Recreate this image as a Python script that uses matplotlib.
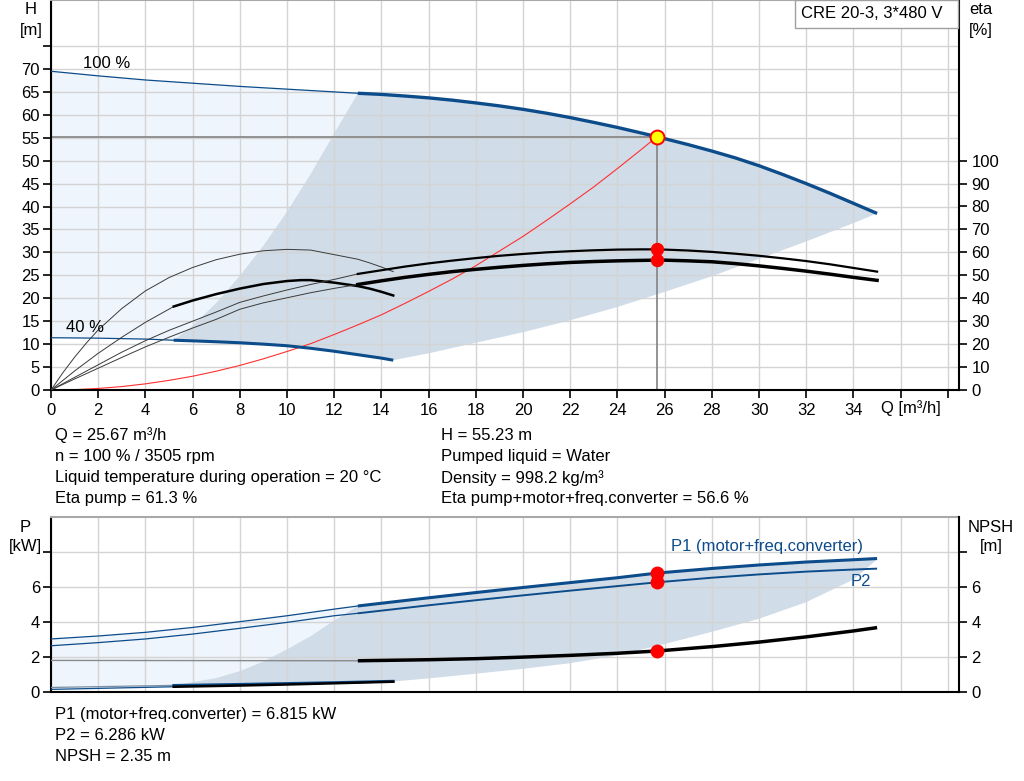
"""Pump performance chart: CRE 20-3 head/efficiency curves and power/NPSH curves.

Two stacked panels sharing the flow axis. The top one carries the head curves at
100 % and 40 % speed with the operating range shaded, the system curve and the
efficiency curves on a right-hand eta axis; the lower one carries P1, P2 and NPSH.
"""

import matplotlib

matplotlib.use("Agg")
import matplotlib.pyplot as plt
from matplotlib.patches import Rectangle

plt.rcParams["font.family"] = ["Liberation Sans", "DejaVu Sans"]

FIG_W, FIG_H = 1024, 781
BLUE = "#0d4c8a"
GRID = "#d4d4d4"
LIGHT_FILL = "#eef5fc"
DARK_FILL = "#d0dce8"
OP_LINE = "#8a8a8a"
THIN = "#3a3a3a"
FONT_SIZE = 12

# Operating point
Q_OP = 25.67
H_OP = 55.23
ETA_PUMP_OP = 61.3
ETA_TOTAL_OP = 56.6
P1_OP = 6.815
P2_OP = 6.286
NPSH_OP = 2.35

# Head at 100 % speed (thin outside the operating range, thick inside)
H100_Q_THIN = [0, 2, 4, 6, 8, 10, 12, 13]
H100_THIN = [69.5, 68.5, 67.6, 66.9, 66.2, 65.6, 65.0, 64.7]
H100_Q = [13, 14, 15, 16, 17, 18, 19, 20, 21, 22, 23, 24, 25, 25.67,
          26, 27, 28, 29, 30, 31, 32, 33, 34, 35]
H100 = [64.7, 64.45, 64.1, 63.7, 63.2, 62.6, 61.95, 61.2, 60.35, 59.4, 58.35, 57.25,
        56.05, 55.23, 54.8, 53.5, 52.1, 50.6, 48.9, 47.0, 45.0, 42.9, 40.7, 38.5]

# Head at 40 % speed
H40_Q_THIN = [0, 2, 4, 5.2]
H40_THIN = [11.4, 11.3, 11.1, 10.85]
H40_Q = [5.2, 6, 7, 8, 9, 10, 11, 12, 13, 14, 14.5]
H40 = [10.85, 10.72, 10.52, 10.3, 10.0, 9.65, 9.1, 8.45, 7.7, 6.95, 6.5]

# Borders of the operating range (min-flow and max-flow edges)
HMIN_Q = [5.2, 6, 7, 8, 9, 10, 11, 12, 13]
HMIN = [10.85, 14.0, 19.0, 24.9, 31.5, 38.9, 47.1, 56.0, 64.7]
HMAX_Q = [14.5, 16, 18, 20, 22, 24, 26, 28, 30, 32, 34, 35]
HMAX = [6.5, 8.0, 10.3, 12.6, 15.2, 18.1, 21.4, 24.8, 28.6, 32.4, 36.4, 38.5]

# System curve through the operating point
SYS_Q = [0, 1, 2, 3, 4, 5, 6, 7, 8, 9, 10, 11, 12, 13, 14, 15, 16, 17, 18, 19,
         20, 21, 22, 23, 24, 25, 25.67]
SYS_H = [0, 0.08, 0.34, 0.75, 1.34, 2.1, 3.0, 4.1, 5.36, 6.8, 8.4, 10.1, 12.1, 14.2,
         16.4, 18.9, 21.5, 24.2, 27.1, 30.3, 33.5, 37.0, 40.6, 44.3, 48.3, 52.4, 55.23]

# Efficiencies [%], 100 % speed
ETA_Q_THIN = [0, 1, 2, 3, 4, 5, 6, 7, 8, 9, 10, 11, 12, 13]
ETA_PUMP_THIN = [0, 5.5, 11.0, 16.5, 21.5, 26.0, 30.0, 34.0, 38.2, 41.0, 43.6, 46.0,
                 48.2, 50.6]
ETA_TOTAL_THIN = [0, 4.8, 9.5, 14.2, 18.8, 23.0, 27.0, 30.8, 35.2, 38.0, 40.2, 42.4,
                  44.3, 46.0]
ETA_Q = [13, 14, 15, 16, 17, 18, 19, 20, 21, 22, 23, 24, 25, 25.67,
         26, 27, 28, 29, 30, 31, 32, 33, 34, 35]
ETA_PUMP = [50.6, 52.2, 53.8, 55.2, 56.4, 57.5, 58.5, 59.3, 60.0, 60.5, 60.9, 61.2,
            61.3, 61.3, 61.2, 60.8, 60.2, 59.4, 58.5, 57.4, 56.2, 54.8, 53.2, 51.6]
ETA_TOTAL = [46.0, 47.6, 49.1, 50.4, 51.6, 52.6, 53.5, 54.3, 55.0, 55.6, 56.0, 56.3,
             56.5, 56.6, 56.6, 56.3, 55.9, 55.1, 54.1, 53.0, 51.8, 50.5, 49.1, 47.8]

# Efficiencies [%], 40 % speed
ETA40_PUMP_Q = [0, 0.5, 1, 1.5, 2, 3, 4, 5, 6, 7, 8, 9, 10, 11, 12, 13, 13.5, 14, 14.5]
ETA40_PUMP = [0, 7.5, 14.3, 20.5, 26.2, 35.5, 43.2, 49.0, 53.4, 56.8, 59.2, 60.7,
              61.3, 61.0, 59.0, 57.0, 55.4, 53.6, 51.6]
ETA40_TOTAL_Q_THIN = [0, 1, 2, 3, 4, 5.2]
ETA40_TOTAL_THIN = [0, 8.3, 16.0, 23.0, 29.5, 36.4]
ETA40_TOTAL_Q = [5.2, 6, 7, 8, 9, 10, 10.6, 11, 12, 13, 13.5, 14, 14.5]
ETA40_TOTAL = [36.4, 39.0, 41.8, 44.2, 46.2, 47.5, 47.9, 47.9, 46.8, 45.3, 44.2,
               42.8, 41.2]

# Power [kW], 100 % speed
P_Q_THIN = [0, 2, 4, 6, 8, 10, 12, 13]
P1_THIN = [3.04, 3.21, 3.42, 3.70, 4.03, 4.37, 4.75, 4.93]
P2_THIN = [2.65, 2.83, 3.04, 3.32, 3.65, 3.99, 4.37, 4.51]
P_Q = [13, 16, 18, 20, 22, 24, 25.67, 28, 30, 32, 34, 35]
P1 = [4.93, 5.40, 5.70, 5.99, 6.27, 6.55, 6.815, 7.08, 7.28, 7.45, 7.58, 7.65]
P2 = [4.51, 4.97, 5.26, 5.54, 5.81, 6.07, 6.286, 6.55, 6.74, 6.90, 7.02, 7.07]

# Power [kW] and NPSH [m], 40 % speed
P40_Q_THIN = [0, 5.2]
P1_40_THIN = [0.26, 0.38]
P2_40_THIN = [0.15, 0.30]
P40_Q = [5.2, 8, 10, 12, 14.5]
P1_40 = [0.38, 0.44, 0.49, 0.54, 0.62]
NPSH_40 = [0.30, 0.37, 0.43, 0.50, 0.59]

# NPSH [m], 100 % speed
NPSH_Q_THIN = [0, 13]
NPSH_THIN = [1.81, 1.79]
NPSH_Q = [13, 16, 18, 20, 22, 24, 25.67, 28, 30, 32, 34, 35]
NPSH = [1.79, 1.85, 1.91, 2.0, 2.1, 2.22, 2.35, 2.6, 2.86, 3.16, 3.5, 3.69]

# Borders of the operating range in the power panel
PMIN_Q = [5.2, 7, 8, 9, 10, 11, 12, 13]
PMIN = [0.38, 0.8, 1.2, 1.75, 2.45, 3.2, 4.1, 4.93]
PMAX_Q = [14.5, 16, 18, 20, 22, 24, 26, 28, 30, 32, 34, 35]
PMAX = [0.6, 0.78, 1.05, 1.33, 1.65, 2.1, 2.75, 3.45, 4.2, 5.15, 6.45, 7.6]

Q_TICKS = list(range(0, 39, 2))
H_TICKS = list(range(0, 80, 5))
ETA_TICKS = list(range(0, 101, 10))
P_TICKS = [0, 2, 4, 6, 8]

INFO_LEFT = [
    "Q = 25.67 m³/h",
    "n = 100 % / 3505 rpm",
    "Liquid temperature during operation = 20 °C",
    "Eta pump = 61.3 %",
]
INFO_RIGHT = [
    "H = 55.23 m",
    "Pumped liquid = Water",
    "Density = 998.2 kg/m³",
    "Eta pump+motor+freq.converter = 56.6 %",
]
INFO_POWER = [
    "P1 (motor+freq.converter) = 6.815 kW",
    "P2 = 6.286 kW",
    "NPSH = 2.35 m",
]


def px(x, y):
    """Figure fraction from a pixel position measured from the top-left corner."""
    return x / FIG_W, 1 - y / FIG_H


def axes_rect(left, top, right, bottom):
    x0, y0 = px(left, bottom)
    x1, y1 = px(right, top)
    return [x0, y0, x1 - x0, y1 - y0]


def style_axes(ax, xlabels=True):
    ax.set_xlim(0, 38.47)
    ax.set_xticks(Q_TICKS)
    if xlabels:
        ax.set_xticklabels([str(q) if q <= 34 else "" for q in Q_TICKS])
        ax.tick_params(axis="x", direction="out", length=6, width=1.2, pad=3)
    else:
        ax.tick_params(axis="x", length=0, labelbottom=False)
    ax.tick_params(axis="y", direction="out", length=6, width=1.2, pad=2)
    ax.tick_params(labelsize=FONT_SIZE)
    ax.grid(True, color=GRID, lw=1.0)
    ax.set_axisbelow(True)
    for side in ("left", "bottom"):
        ax.spines[side].set_color("black")
        ax.spines[side].set_linewidth(1.5)
    ax.spines["top"].set_color("#a8a8a8")
    ax.spines["top"].set_linewidth(1.5)
    ax.spines["right"].set_visible(False)


def style_twin(twin, ticks, labels):
    twin.set_yticks(ticks)
    twin.set_yticklabels(labels)
    twin.tick_params(axis="y", direction="out", length=6, width=1.2, pad=3,
                     labelsize=FONT_SIZE)
    for side in ("left", "top", "bottom"):
        twin.spines[side].set_visible(False)
    twin.spines["right"].set_color("black")
    twin.spines["right"].set_linewidth(1.5)


fig = plt.figure(figsize=(FIG_W / 100, FIG_H / 100), dpi=100)

# ---- head / efficiency panel ----
ax_h = fig.add_axes(axes_rect(51, 0, 959, 390))
style_axes(ax_h)
ax_h.set_ylim(0, 85.04)
ax_h.set_yticks(H_TICKS)
ax_h.set_yticklabels([str(h) if h <= 70 else "" for h in H_TICKS])

light_q = H100_Q_THIN + HMIN_Q[::-1] + H40_Q_THIN[::-1]
light_h = H100_THIN + HMIN[::-1] + H40_THIN[::-1]
ax_h.fill(light_q, light_h, color=LIGHT_FILL, lw=0, zorder=0.2)
dark_q = HMIN_Q + H100_Q + HMAX_Q[::-1] + H40_Q[::-1]
dark_h = HMIN + H100 + HMAX[::-1] + H40[::-1]
ax_h.fill(dark_q, dark_h, color=DARK_FILL, lw=0, zorder=0.3)

ax_h.plot(SYS_Q, SYS_H, color="#ff3030", lw=0.8, zorder=2)
ax_h.plot([0, Q_OP], [H_OP, H_OP], color=OP_LINE, lw=1.3, zorder=2)
ax_h.plot([Q_OP, Q_OP], [0, H_OP], color=OP_LINE, lw=1.3, zorder=2)
ax_h.plot(H100_Q_THIN, H100_THIN, color=BLUE, lw=0.9, zorder=3)
ax_h.plot(H100_Q, H100, color=BLUE, lw=2.4, zorder=3, solid_capstyle="butt")
ax_h.plot(H40_Q_THIN, H40_THIN, color=BLUE, lw=0.9, zorder=3)
ax_h.plot(H40_Q, H40, color=BLUE, lw=2.2, zorder=3, solid_capstyle="butt")
ax_h.plot([Q_OP], [H_OP], "o", ms=10, mfc="#ffff00", mec="#ff0000", mew=1.4, zorder=6)

ax_eta = ax_h.twinx()
ax_eta.set_ylim(0, 170)
style_twin(ax_eta, ETA_TICKS, [str(e) for e in ETA_TICKS])
ax_eta.plot(ETA40_PUMP_Q, ETA40_PUMP, color=THIN, lw=0.7)
ax_eta.plot(ETA40_TOTAL_Q_THIN, ETA40_TOTAL_THIN, color=THIN, lw=0.7)
ax_eta.plot(ETA40_TOTAL_Q, ETA40_TOTAL, color="black", lw=1.8)
ax_eta.plot(ETA_Q_THIN, ETA_PUMP_THIN, color=THIN, lw=0.7)
ax_eta.plot(ETA_Q_THIN, ETA_TOTAL_THIN, color=THIN, lw=0.7)
ax_eta.plot(ETA_Q, ETA_PUMP, color="black", lw=1.6)
ax_eta.plot(ETA_Q, ETA_TOTAL, color="black", lw=2.5)
ax_eta.plot([Q_OP, Q_OP], [ETA_PUMP_OP, ETA_TOTAL_OP], "o", ms=8.6,
            color="#ff0000", zorder=6)

# ---- power / NPSH panel ----
ax_p = fig.add_axes(axes_rect(51, 517, 959, 692))
style_axes(ax_p, xlabels=False)
ax_p.set_ylim(0, 10.03)
ax_p.set_yticks(P_TICKS)
ax_p.set_yticklabels([str(p) if p <= 6 else "" for p in P_TICKS])

light_q = P_Q_THIN + PMIN_Q[::-1] + P40_Q_THIN[::-1]
light_p = P1_THIN + PMIN[::-1] + P2_40_THIN[::-1]
ax_p.fill(light_q, light_p, color=LIGHT_FILL, lw=0, zorder=0.2)
dark_q = PMIN_Q + P_Q + PMAX_Q[::-1] + P40_Q[::-1]
dark_p = PMIN + P1 + PMAX[::-1] + P1_40[::-1]
ax_p.fill(dark_q, dark_p, color=DARK_FILL, lw=0, zorder=0.3)

ax_p.plot(P_Q_THIN, P1_THIN, color=BLUE, lw=0.9, zorder=3)
ax_p.plot(P_Q_THIN, P2_THIN, color=BLUE, lw=0.9, zorder=3)
ax_p.plot(P_Q, P1, color=BLUE, lw=2.2, zorder=3, solid_capstyle="butt")
ax_p.plot(P_Q, P2, color=BLUE, lw=1.4, zorder=3, solid_capstyle="butt")
ax_p.plot(P40_Q_THIN, P1_40_THIN, color="#7a8ea3", lw=0.9, zorder=3)
ax_p.plot(P40_Q_THIN, P2_40_THIN, color=BLUE, lw=0.9, zorder=3)
ax_p.plot(P40_Q, P1_40, color=BLUE, lw=2.0, zorder=3)
ax_p.plot([Q_OP, Q_OP], [P1_OP, P2_OP], "o", ms=9, color="#ff0000", zorder=6)

ax_n = ax_p.twinx()
ax_n.set_ylim(0, 10.03)
style_twin(ax_n, P_TICKS, [str(p) if p <= 6 else "" for p in P_TICKS])
ax_n.plot(NPSH_Q_THIN, NPSH_THIN, color="#8a8a8a", lw=1.0)
ax_n.plot(NPSH_Q, NPSH, color="black", lw=2.5, solid_capstyle="butt")
ax_n.plot(P40_Q, NPSH_40, color="black", lw=1.8)
ax_n.plot([Q_OP], [NPSH_OP], "o", ms=9, color="#ff0000", zorder=6)


# ---- texts ----
def label(x, y, text, **kw):
    kw.setdefault("ha", "center")
    kw.setdefault("va", "center")
    kw.setdefault("fontsize", FONT_SIZE)
    fig.text(*px(x, y), text, **kw)


label(31, 9, "H")
label(31, 30, "[m]")
label(981, 10, "eta")
label(981, 30, "[%]")
label(25, 527, "P")
label(25, 547, "[kW]")
label(991, 527, "NPSH")
label(991, 547, "[m]")
label(911, 408, "Q [m³/h]")
label(107, 64, "100 %")
label(85, 327, "40 %")
label(767, 547, "P1 (motor+freq.converter)", color=BLUE)
label(861, 581, "P2", color=BLUE)

fig.patches.append(Rectangle(px(795, 28), 163 / FIG_W, 28 / FIG_H,
                             transform=fig.transFigure, facecolor="white",
                             edgecolor="#a0a0a0", lw=1.0, zorder=10))
label(872, 14, "CRE 20-3, 3*480 V", zorder=11)

for i, text in enumerate(INFO_LEFT):
    label(55, 435 + i * 21.3, text, ha="left")
for i, text in enumerate(INFO_RIGHT):
    label(441, 435 + i * 21.3, text, ha="left")
for i, text in enumerate(INFO_POWER):
    label(55, 714 + i * 21.3, text, ha="left")

fig.savefig("out.png", dpi=100)
